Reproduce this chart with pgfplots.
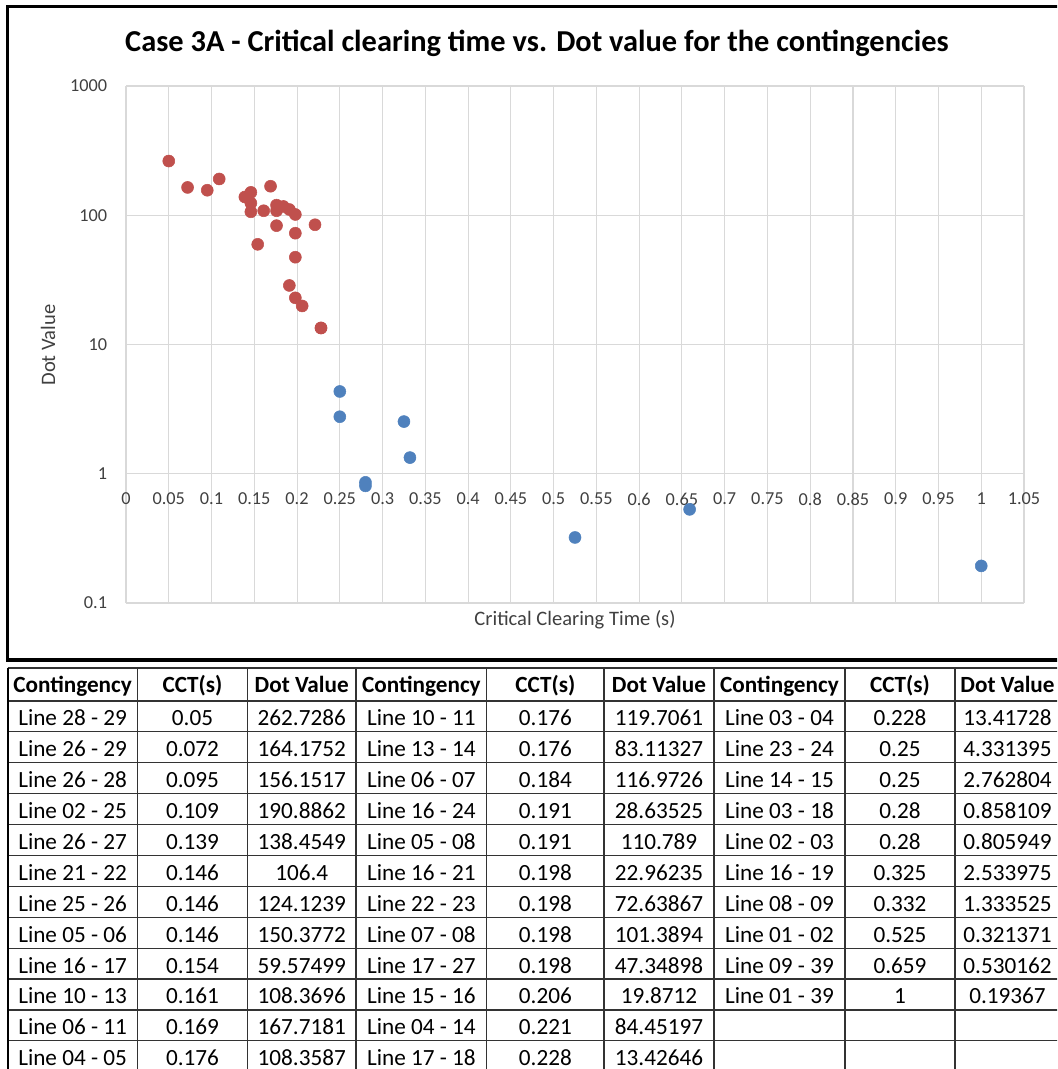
\documentclass[border=0pt]{standalone}
\usepackage{fontspec}
\setmainfont{Carlito}
\usepackage{pgfplots}
\pgfplotsset{compat=1.18}
\definecolor{exred}{HTML}{C0504D}
\definecolor{exblue}{HTML}{4F81BD}
\definecolor{gridc}{HTML}{D9D9D9}
\definecolor{txt}{HTML}{404040}
\definecolor{rule}{HTML}{333333}

\begin{document}
\begin{tikzpicture}
% page is 1057 x 1069 px, 1 px = 0.75pt
\useasboundingbox (0,0) rectangle (792.75pt,-801.75pt);
\clip (0,0) rectangle (792.75pt,-801.75pt);

\begin{axis}[
    at={(94.5pt,-452.25pt)}, anchor=south west,
    scale only axis,
    width=673.5pt, height=387.75pt,
    xmin=0, xmax=1.05,
    ymode=log, ymin=0.1, ymax=1000,
    xtick={0,0.05,0.1,0.15,0.2,0.25,0.3,0.35,0.4,0.45,0.5,0.55,0.6,0.65,0.7,0.75,0.8,0.85,0.9,0.95,1,1.05},
    xticklabels={0,0.05,0.1,0.15,0.2,0.25,0.3,0.35,0.4,0.45,0.5,0.55,0.6,0.65,0.7,0.75,0.8,0.85,0.9,0.95,1,1.05},
    ytick={0.1,1,10,100,1000},
    yticklabels={0.1,1,10,100,1000},
    yminorticks=false, xminorticks=false,
    grid=major,
    major grid style={draw=gridc, line width=0.8pt},
    axis line style={draw=none},
    major tick length=0pt, minor tick length=0pt,
    xticklabel style={anchor=center, inner sep=0pt, yshift=78pt,
        font=\fontsize{13.7}{16}\selectfont, text=txt},
    yticklabel style={anchor=east, inner sep=0pt, xshift=-14pt,
        font=\fontsize{13.7}{16}\selectfont, text=txt},
    xlabel={Critical Clearing Time (s)},
    xlabel style={at={(axis description cs:0.5,0)}, anchor=center, inner sep=0pt,
        yshift=-12.75pt, font=\fontsize{15.4}{18}\selectfont, text=txt},
    clip=false,
]
\addplot[only marks, mark=*, mark size=4.5pt, color=exred, mark options={draw=none, fill=exred}] coordinates {
    (0.05,262.7286) (0.072,164.1752) (0.095,156.1517) (0.109,190.8862)
    (0.139,138.4549) (0.146,106.4) (0.146,124.1239) (0.146,150.3772)
    (0.154,59.57499) (0.161,108.3696) (0.169,167.7181) (0.176,108.3587)
    (0.176,119.7061) (0.176,83.11327) (0.184,116.9726) (0.191,28.63525)
    (0.191,110.789) (0.198,22.96235) (0.198,72.63867) (0.198,101.3894)
    (0.198,47.34898) (0.206,19.8712) (0.221,84.45197) (0.228,13.42646)
    (0.228,13.41728)
};
\addplot[only marks, mark=*, mark size=4.5pt, color=exblue, mark options={draw=none, fill=exblue}] coordinates {
    (0.25,4.331395) (0.25,2.762804) (0.28,0.858109) (0.28,0.805949)
    (0.325,2.533975) (0.332,1.333525) (0.525,0.321371) (0.659,0.530162)
    (1,0.19367)
};
\end{axis}

\begin{scope}[x=0.75pt, y=-0.75pt]
  % chart frame, title, y label
  \draw[line width=2.4pt, black] (7.5,6.5) rectangle (1070,660);
  \node[font=\fontsize{22.8}{26}\selectfont\bfseries, inner sep=0pt] at (537,43) {Case 3A - Critical clearing time vs. Dot value for the contingencies};
  \node[font=\fontsize{15.4}{18}\selectfont, text=txt, rotate=90, inner sep=0pt] at (48,345) {Dot Value};

  % table grid
  \draw[line width=0.9pt, rule] (7.5,668) -- (1070,668);
  \foreach \k in {0,...,12} {
    \draw[line width=0.9pt, rule] (7.5,{700.9+30.9*\k}) -- (1070,{700.9+30.9*\k});
  }
  \foreach \x in {137.7,247.3,356,486.7,604,714,845,955,1060} {
    \draw[line width=0.9pt, rule] (\x,668) -- (\x,1075);
  }
  \draw[line width=1.8pt, black] (8,668) -- (8,1075);

  % header
  \foreach \x/\t in {72.6/Contingency,192.5/CCT(s),301.7/Dot Value,
                     421.4/Contingency,545.4/CCT(s),659/Dot Value,
                     779.5/Contingency,900/CCT(s),1007.5/Dot Value} {
    \node[font=\fontsize{17.4}{20}\selectfont\bfseries, anchor=base, inner sep=0pt] at (\x,692.5) {\t};
  }

  % body
  \foreach \k/\a/\b/\c/\d/\e/\f/\g/\h/\i in {
    1/Line 28 - 29/0.05/262.7286/Line 10 - 11/0.176/119.7061/Line 03 - 04/0.228/13.41728,
    2/Line 26 - 29/0.072/164.1752/Line 13 - 14/0.176/83.11327/Line 23 - 24/0.25/4.331395,
    3/Line 26 - 28/0.095/156.1517/Line 06 - 07/0.184/116.9726/Line 14 - 15/0.25/2.762804,
    4/Line 02 - 25/0.109/190.8862/Line 16 - 24/0.191/28.63525/Line 03 - 18/0.28/0.858109,
    5/Line 26 - 27/0.139/138.4549/Line 05 - 08/0.191/110.789/Line 02 - 03/0.28/0.805949,
    6/Line 21 - 22/0.146/106.4/Line 16 - 21/0.198/22.96235/Line 16 - 19/0.325/2.533975,
    7/Line 25 - 26/0.146/124.1239/Line 22 - 23/0.198/72.63867/Line 08 - 09/0.332/1.333525,
    8/Line 05 - 06/0.146/150.3772/Line 07 - 08/0.198/101.3894/Line 01 - 02/0.525/0.321371,
    9/Line 16 - 17/0.154/59.57499/Line 17 - 27/0.198/47.34898/Line 09 - 39/0.659/0.530162,
    10/Line 10 - 13/0.161/108.3696/Line 15 - 16/0.206/19.8712/Line 01 - 39/1/0.19367,
    11/Line 06 - 11/0.169/167.7181/Line 04 - 14/0.221/84.45197/{}/{}/{},
    12/Line 04 - 05/0.176/108.3587/Line 17 - 18/0.228/13.42646/{}/{}/{}} {
    \pgfmathsetmacro{\yy}{725.8+30.9*(\k-1)}
    \foreach \x/\t in {72.6/\a,192.5/\b,301.7/\c,421.4/\d,545.4/\e,659/\f,779.5/\g,900/\h,1007.5/\i} {
      \node[font=\fontsize{17.4}{20}\selectfont, anchor=base, inner sep=0pt] at (\x,\yy) {\t};
    }
  }
\end{scope}
\end{tikzpicture}
\end{document}
